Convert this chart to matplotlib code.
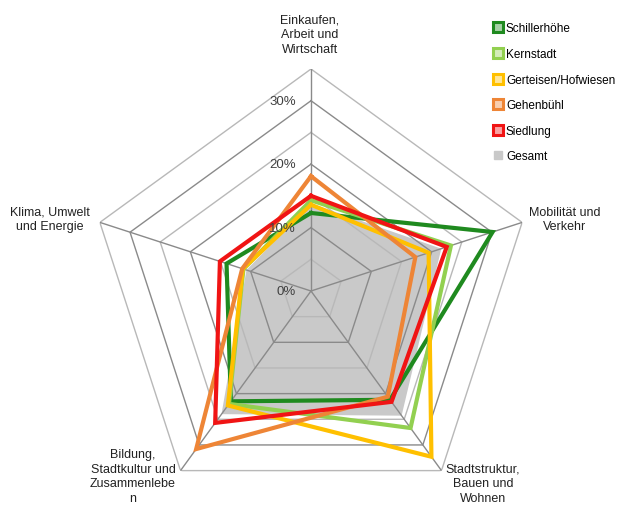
import numpy as np
import matplotlib
matplotlib.use("Agg")
import matplotlib.pyplot as plt
from matplotlib.lines import Line2D
from matplotlib.transforms import offset_copy
from matplotlib.colors import to_rgb

plt.rcParams['font.family'] = ['Liberation Sans', 'DejaVu Sans']

categories = ["Einkaufen,\nArbeit und\nWirtschaft",
              "Mobilität und\nVerkehr",
              "Stadtstruktur,\nBauen und\nWohnen",
              "Bildung,\nStadtkultur und\nZusammenlebe\nn",
              "Klima, Umwelt\nund Energie"]

series_names = ["Schillerhöhe", "Kernstadt", "Gerteisen/Hofwiesen", "Gehenbühl", "Siedlung"]
schillerhoehe = [12.3, 30.1, 21.2, 21.5, 14.0]
kernstadt = [14.3, 23.2, 26.7, 22.0, 11.2]
gerteisen = [13.6, 19.5, 32.3, 22.3, 11.3]
gehenbuehl = [18.1, 17.3, 20.6, 30.8, 11.4]
siedlung = [15.0, 22.5, 21.6, 25.7, 15.1]
gesamt = [13.8, 21.6, 24.3, 24.0, 10.7]

tick_values = [0, 10, 20, 30]
tick_labels = ["0%", "10%", "20%", "30%"]
rings = [5, 10, 15, 20, 25, 30, 35]

colors = ['#1f8a1f', '#92d050', '#ffc000', '#ee8536', '#f01414']
gesamt_color = '#c9c9c9'

W, H = 618, 510
fig = plt.figure(figsize=(W / 100, H / 100), dpi=100)
cx, cy, R = 311, 292, 222
ax = fig.add_axes([(cx - R) / W, (H - cy - R) / H, 2 * R / W, 2 * R / H], projection='polar')
ax.set_theta_offset(np.pi / 2)
ax.set_theta_direction(-1)
ax.set_ylim(0, 35)
ax.grid(False)
ax.set_xticks([])
ax.set_yticks([])
ax.spines['polar'].set_visible(False)
ax.patch.set_visible(False)

n = len(categories)
theta = np.arange(n) * 2 * np.pi / n
theta_c = np.append(theta, theta[0])

def closed(v):
    return np.append(v, v[0])

# Gesamt area
ax.fill(theta_c, closed(gesamt), color=gesamt_color, zorder=1, lw=0)

# Grid rings
for r in rings:
    col = '#8a8a8a' if r % 10 == 0 else '#b8b8b8'
    ax.plot(theta_c, [r] * (n + 1), color=col, lw=1.0, zorder=2)
# Spokes
for t in theta:
    ax.plot([t, t], [0, 35], color='#8a8a8a', lw=1.0, zorder=2)

all_series = [schillerhoehe, kernstadt, gerteisen, gehenbuehl, siedlung]
for vals, col in zip(all_series, colors):
    ax.plot(theta_c, closed(vals), color=col, lw=3.0, zorder=3, solid_joinstyle='miter')

# Radial tick labels
tr = offset_copy(ax.transData, fig=fig, x=-15, y=0, units='dots')
for v, lab in zip(tick_values, tick_labels):
    ax.text(0, v, lab, transform=tr, ha='right', va='center', fontsize=9.5,
            color='#404040', zorder=4)

# Category labels
label_pos = [(310, 35), (565, 220), (483, 484), (133, 477), (50, 220)]
for lab, (x, y) in zip(categories, label_pos):
    fig.text(x / W, 1 - y / H, lab, ha='center', va='center', fontsize=9,
             color='#222222', linespacing=1.3)

# Legend
def lighter(c, f=0.6):
    r, g, b = to_rgb(c)
    return (r + (1 - r) * f, g + (1 - g) * f, b + (1 - b) * f)

handles = [Line2D([], [], marker='s', linestyle='none', markersize=7,
                  markerfacecolor=lighter(c), markeredgecolor=c, markeredgewidth=2.2)
           for c in colors]
handles.append(Line2D([], [], marker='s', linestyle='none', markersize=5.5,
                      markerfacecolor=gesamt_color, markeredgecolor=gesamt_color))
labels = series_names + ["Gesamt"]
fig.legend(handles, labels, loc='upper left', bbox_to_anchor=(493 / W, 1 - 23.5 / H),
           frameon=False, fontsize=8.5, handlelength=0.8, handletextpad=0.3,
           labelspacing=1.15, borderpad=0, borderaxespad=0)

fig.savefig("out.png", dpi=100, facecolor='white')
